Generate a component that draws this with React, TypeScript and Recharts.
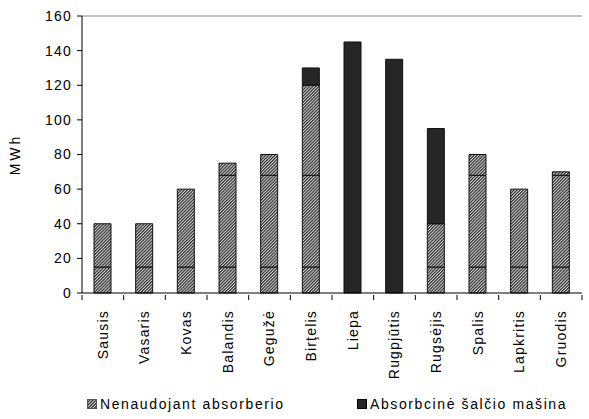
import { Bar, BarChart, ReferenceLine, XAxis, YAxis } from "recharts";

const months = ["Sausis", "Vasaris", "Kovas", "Balandis", "Gegužė", "Birţelis", "Liepa", "Rugpjūtis", "Rugsėjis", "Spalis", "Lapkritis", "Gruodis"];
// hatched part is split into three stacked pieces, black part on top
const base = [15, 15, 15, 15, 15, 15, 0, 0, 15, 15, 15, 15];
const middle = [25, 25, 45, 53, 53, 53, 0, 0, 25, 53, 45, 53];
const upper = [0, 0, 0, 7, 12, 52, 0, 0, 0, 12, 0, 2];
const absorber = [0, 0, 0, 0, 0, 10, 145, 135, 55, 0, 0, 0];
const yTicks = [0, 20, 40, 60, 80, 100, 120, 140, 160];

const data = months.map((m, i) => ({ month: m, base: base[i], middle: middle[i], upper: upper[i], absorber: absorber[i] }));

const FONT = "'Liberation Sans', Arial, sans-serif";

function Hatch({ id }: { id: string }) {
  return (
    <pattern id={id} width="2.2" height="2.2" patternUnits="userSpaceOnUse" patternTransform="rotate(45)">
      <rect width="2.2" height="2.2" fill="#d8d8d8" />
      <rect width="1.2" height="2.2" fill="#2e2e2e" />
    </pattern>
  );
}

// label plus tick marks on the category borders (half a band either side)
function MonthTick({ x, y, payload, index }: any) {
  const half = payload.offset ?? 0;
  const last = index === months.length - 1;
  return (
    <g>
      <line x1={x - half} x2={x - half} y1={y - 1} y2={y + 4} stroke="#000" />
      {last && <line x1={x + half} x2={x + half} y1={y - 1} y2={y + 4} stroke="#000" />}
      <text
        x={0}
        y={0}
        transform={`translate(${x},${y + 14}) rotate(-90)`}
        textAnchor="end"
        dy="0.35em"
        fontSize={14}
        fontFamily={FONT}
        letterSpacing={1.2}
        fill="#000"
      >
        {payload.value}
      </text>
    </g>
  );
}

export default function App() {
  const barStroke = { stroke: "#111", strokeWidth: 1 };
  return (
    <div style={{ position: "absolute", left: 0, top: 0, width: 589, height: 419, background: "#fff", fontFamily: FONT }}>
      <BarChart width={589} height={419} data={data} margin={{ top: 16, right: 7, left: 0, bottom: 46 }} barSize={17}>
        <defs>
          <Hatch id="hatch" />
        </defs>
        <XAxis dataKey="month" height={80} axisLine={{ stroke: "#000" }} tickLine={false} tickSize={1} tick={<MonthTick />} interval={0} />
        <YAxis
          domain={[0, 160]}
          ticks={yTicks}
          width={82}
          tickSize={5}
          tickMargin={5}
          axisLine={{ stroke: "#000" }}
          tickLine={{ stroke: "#000" }}
          tick={{ fontSize: 14, fill: "#000", fontFamily: FONT, letterSpacing: 1.2 }}
          label={{ value: "MWh", angle: -90, position: "insideLeft", offset: 15, style: { textAnchor: "middle", fontSize: 14, fill: "#000", fontFamily: FONT, letterSpacing: 3 } }}
        />
        <ReferenceLine y={160} stroke="#888" />
        <Bar dataKey="base" stackId="a" fill="url(#hatch)" {...barStroke} isAnimationActive={false} />
        <Bar dataKey="middle" stackId="a" fill="url(#hatch)" {...barStroke} isAnimationActive={false} />
        <Bar dataKey="upper" stackId="a" fill="url(#hatch)" {...barStroke} isAnimationActive={false} />
        <Bar dataKey="absorber" stackId="a" fill="#262626" {...barStroke} isAnimationActive={false} />
      </BarChart>
      <div style={{ position: "absolute", left: 87, top: 396, display: "flex", alignItems: "center", fontSize: 14, letterSpacing: 1.6, color: "#000", whiteSpace: "nowrap" }}>
        <svg width={10} height={10} style={{ marginRight: 3 }}>
          <defs>
            <Hatch id="hatchLegend" />
          </defs>
          <rect x={0.5} y={0.5} width={9} height={9} fill="url(#hatchLegend)" stroke="#555" />
        </svg>
        <span>Nenaudojant absorberio</span>
      </div>
      <div style={{ position: "absolute", left: 357, top: 396, display: "flex", alignItems: "center", fontSize: 14, letterSpacing: 1.6, color: "#000", whiteSpace: "nowrap" }}>
        <svg width={10} height={10} style={{ marginRight: 3 }}>
          <rect x={0.5} y={0.5} width={9} height={9} fill="#262626" stroke="#000" />
        </svg>
        <span>Absorbcinė šalčio mašina</span>
      </div>
    </div>
  );
}
